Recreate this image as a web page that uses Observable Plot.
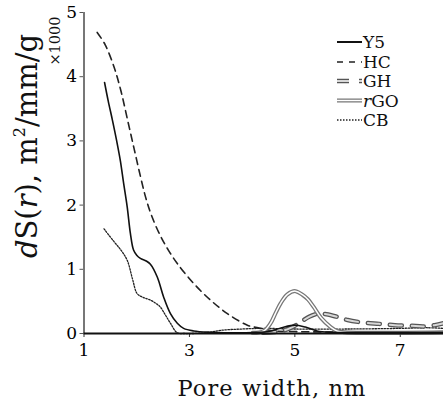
<!DOCTYPE html>
<html>
<head>
<meta charset="utf-8">
<script src="https://cdn.jsdelivr.net/npm/d3@7"></script>
<script src="https://cdn.jsdelivr.net/npm/@observablehq/plot@0.6"></script>
<style>
  html, body { margin: 0; padding: 0; background: #fff; }
  #chart { width: 443px; height: 403px; }
  #chart svg, #chart svg text { font-family: "DejaVu Serif", serif !important; }
</style>
</head>
<body>
<div id="chart"></div>
<script>
// Pore width (nm), dS(r) (x1000 m2/mm/g)
const seriesNames = ["Y5", "HC", "GH", "rGO", "CB"];
const xTicks = [1, 3, 5, 7];
const yTicks = [0, 1, 2, 3, 4, 5];

const Y5 = [[1.39,3.91],[1.46,3.62],[1.54,3.32],[1.62,3.0],[1.69,2.69],[1.75,2.35],[1.82,1.97],[1.88,1.56],[1.94,1.30],[2.00,1.22],[2.07,1.17],[2.18,1.13],[2.26,1.08],[2.39,0.88],[2.51,0.57],[2.64,0.31],[2.77,0.16],[2.89,0.08],[3.08,0.04],[3.4,0.02],[4.0,0.01],[4.5,0.03],[4.75,0.09],[5.0,0.13],[5.2,0.10],[5.42,0.04],[5.7,0.02],[7.82,0.02]];
const HC = [[1.25,4.69],[1.40,4.50],[1.57,4.15],[1.70,3.78],[1.82,3.35],[1.95,2.88],[2.07,2.45],[2.17,2.12],[2.28,1.84],[2.45,1.52],[2.60,1.30],[2.77,1.09],[3.08,0.78],[3.40,0.52],[3.72,0.31],[4.10,0.13],[4.35,0.08],[4.6,0.04],[5.0,0.03],[6.0,0.02],[7.82,0.02]];
const GH = [[4.4,0.01],[4.7,0.03],[4.9,0.08],[5.08,0.16],[5.27,0.26],[5.45,0.31],[5.6,0.30],[5.8,0.26],[6.0,0.21],[6.3,0.17],[6.6,0.15],[6.9,0.13],[7.2,0.12],[7.45,0.11],[7.65,0.13],[7.82,0.16]];
const rGO = [[4.2,0.01],[4.41,0.04],[4.54,0.16],[4.63,0.31],[4.73,0.47],[4.86,0.61],[5.01,0.66],[5.15,0.60],[5.25,0.53],[5.36,0.41],[5.5,0.24],[5.68,0.10],[5.8,0.04],[5.95,0.02],[7.82,0.02]];
const CB = [[1.38,1.63],[1.55,1.45],[1.70,1.30],[1.82,1.14],[1.92,0.85],[2.01,0.62],[2.13,0.56],[2.26,0.52],[2.38,0.46],[2.45,0.41],[2.55,0.28],[2.64,0.16],[2.77,0.01],[2.9,0.0],[3.3,0.01],[3.6,0.05],[4.0,0.07],[4.4,0.08],[5.0,0.07],[6.0,0.07],[7.0,0.08],[7.5,0.09],[7.82,0.08]];

const curve = "catmull-rom";
const plot = Plot.plot({
  width: 443,
  height: 403,
  marginLeft: 83.5,
  marginRight: 0,
  marginTop: 12,
  marginBottom: 70,
  style: {background: "#fff", fontFamily: "DejaVu Serif"},
  x: {domain: [1, 7.82]},
  y: {domain: [0, 5]},
  marks: [
    Plot.axisX({ticks: xTicks, tickSize: 4, tickPadding: 6, fontSize: 17, label: null, tickFormat: d => String(d), stroke: "#333"}),
    Plot.axisY({ticks: yTicks, tickSize: 4, tickPadding: 3, fontSize: 17, label: null, tickFormat: d => String(d), stroke: "#555"}),
    Plot.ruleX([1], {y1: 0, y2: 5, stroke: "#777", strokeWidth: 2}),
    Plot.line(CB, {x: d => d[0], y: d => d[1], stroke: "#222", strokeWidth: 1.3, strokeDasharray: "1.5,1.5", curve}),
    Plot.line(HC, {x: d => d[0], y: d => d[1], stroke: "#222", strokeWidth: 1.6, strokeDasharray: "7,5", curve}),
    Plot.line(GH, {x: d => d[0], y: d => d[1], stroke: "#555", strokeWidth: 4.5, strokeDasharray: "12,10", curve}),
    Plot.line(GH, {x: d => d[0], y: d => d[1], stroke: "#d8d8d8", strokeWidth: 2, strokeDasharray: "12,10", curve}),
    Plot.line(rGO, {x: d => d[0], y: d => d[1], stroke: "#777", strokeWidth: 4, curve}),
    Plot.line(rGO, {x: d => d[0], y: d => d[1], stroke: "#fff", strokeWidth: 1.5, curve}),
    Plot.line(Y5, {x: d => d[0], y: d => d[1], stroke: "#111", strokeWidth: 1.6, curve}),
    Plot.ruleY([0], {stroke: "#111", strokeWidth: 2})
  ]
});
document.getElementById("chart").appendChild(plot);

const svg = d3.select(plot);
// y label
const yl = svg.append("text")
  .attr("transform", "translate(37,146) rotate(-90)")
  .attr("text-anchor", "middle")
  .attr("font-family", "DejaVu Serif")
  .attr("font-size", 29)
  .attr("fill", "#111");
yl.append("tspan").attr("font-style", "italic").text("d");
yl.append("tspan").text("S(");
yl.append("tspan").attr("font-style", "italic").text("r");
yl.append("tspan").text("), m");
yl.append("tspan").attr("font-size", 16).attr("dy", -12).text("2");
yl.append("tspan").attr("dy", 12).text("/mm/g");

svg.append("text")
  .attr("transform", "translate(60,41) rotate(-90)")
  .attr("text-anchor", "middle")
  .attr("font-family", "DejaVu Serif")
  .attr("font-size", 14.5)
  .attr("fill", "#111")
  .text("×1000");

svg.append("text")
  .attr("x", 272).attr("y", 396)
  .attr("text-anchor", "middle")
  .attr("font-family", "DejaVu Serif")
  .attr("font-size", 22.5)
  .attr("letter-spacing", 1.1)
  .attr("fill", "#111")
  .text("Pore width, nm");

// legend
const lg = svg.append("g").attr("text-anchor", "start");
const ly = [42, 62, 81, 100.5, 120];
const lx1 = 337, lx2 = 362;
lg.append("line").attr("x1", lx1).attr("x2", lx2).attr("y1", ly[0]).attr("y2", ly[0]).attr("stroke", "#111").attr("stroke-width", 2);
lg.append("line").attr("x1", lx1).attr("x2", lx2).attr("y1", ly[1]).attr("y2", ly[1]).attr("stroke", "#222").attr("stroke-width", 1.6).attr("stroke-dasharray", "6,6");
lg.append("line").attr("x1", lx1).attr("x2", lx2).attr("y1", ly[2]).attr("y2", ly[2]).attr("stroke", "#555").attr("stroke-width", 4.5).attr("stroke-dasharray", "12,10");
lg.append("line").attr("x1", lx1).attr("x2", lx2).attr("y1", ly[2]).attr("y2", ly[2]).attr("stroke", "#d8d8d8").attr("stroke-width", 2).attr("stroke-dasharray", "12,10");
lg.append("line").attr("x1", lx1).attr("x2", lx2).attr("y1", ly[3]).attr("y2", ly[3]).attr("stroke", "#777").attr("stroke-width", 4);
lg.append("line").attr("x1", lx1).attr("x2", lx2).attr("y1", ly[3]).attr("y2", ly[3]).attr("stroke", "#fff").attr("stroke-width", 1.5);
lg.append("line").attr("x1", lx1).attr("x2", lx2).attr("y1", ly[4]).attr("y2", ly[4]).attr("stroke", "#222").attr("stroke-width", 1.3).attr("stroke-dasharray", "1.5,1.5");
seriesNames.forEach((n, i) => {
  const t = lg.append("text").attr("x", 363).attr("y", ly[i]).attr("dy", "0.36em")
    .attr("text-anchor", "start")
    .attr("font-family", "DejaVu Serif")
    .attr("font-size", 17).attr("fill", "#111");
  if (n === "rGO") {
    t.append("tspan").attr("font-style", "italic").text("r");
    t.append("tspan").text("GO");
  } else {
    t.text(n);
  }
});
</script>
</body>
</html>
